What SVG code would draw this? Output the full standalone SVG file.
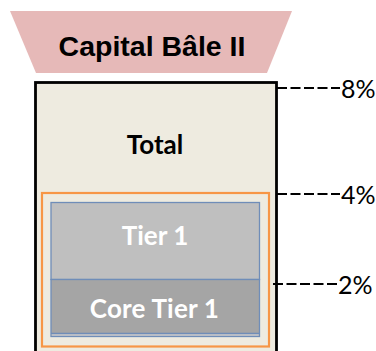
<svg xmlns="http://www.w3.org/2000/svg" width="376" height="351" viewBox="0 0 376 351">
<style>
.lab{font-family:Lato,"Open Sans","Liberation Sans",sans-serif;font-weight:bold;font-size:26px;text-anchor:middle}
.pct{font-family:Lato,"Open Sans","Liberation Sans",sans-serif;font-size:25px;fill:#000}
.dash{stroke:#000;stroke-width:2.2;stroke-dasharray:10 3.5;fill:none}
.blue{stroke:#6F8DB8;stroke-width:1.3}
</style>
<rect width="376" height="351" fill="#FFFFFF"/>
<g id="title">
<polygon points="10,11 292,11 267,73 36,73" fill="#E6B9B8"/>
<text x="152" y="56" font-family="Liberation Sans,Arial,sans-serif" font-weight="bold" font-size="28.5" text-anchor="middle" fill="#000">Capital Bâle II</text>
</g>
<g id="total">
<rect x="35.5" y="82.5" width="241" height="280" fill="#EEEBE0" stroke="#000" stroke-width="2.8"/>
<text class="lab" x="155" y="153.5" fill="#000">Total</text>
</g>
<g id="tier2box">
<rect x="42" y="193" width="227" height="153.5" fill="none" stroke="#F79646" stroke-width="2.2"/>
</g>
<g id="tier1">
<rect x="51" y="202.5" width="208.5" height="77" fill="#BFBFBF" class="blue"/>
<text class="lab" x="155" y="245" fill="#FFFFFF">Tier 1</text>
</g>
<g id="coretier1">
<rect x="51" y="279.5" width="208.5" height="57" fill="#A5A5A5" class="blue"/>
<line x1="51" y1="333.3" x2="259.5" y2="333.3" class="blue"/>
<rect x="51.7" y="334" width="207" height="2" fill="#B8BDC6"/>
<text class="lab" x="154.5" y="318" fill="#FFFFFF" letter-spacing="0.2">Core Tier 1</text>
</g>
<g id="connectors">
<line class="dash" x1="277" y1="88" x2="340" y2="88"/>
<line class="dash" x1="277" y1="194" x2="340" y2="194"/>
<line class="dash" x1="273" y1="284" x2="337" y2="284"/>
</g>
<g id="labels">
<text class="pct" x="341" y="97.5">8%</text>
<text class="pct" x="341" y="203.5">4%</text>
<text class="pct" x="338" y="293.5">2%</text>
</g>
</svg>
